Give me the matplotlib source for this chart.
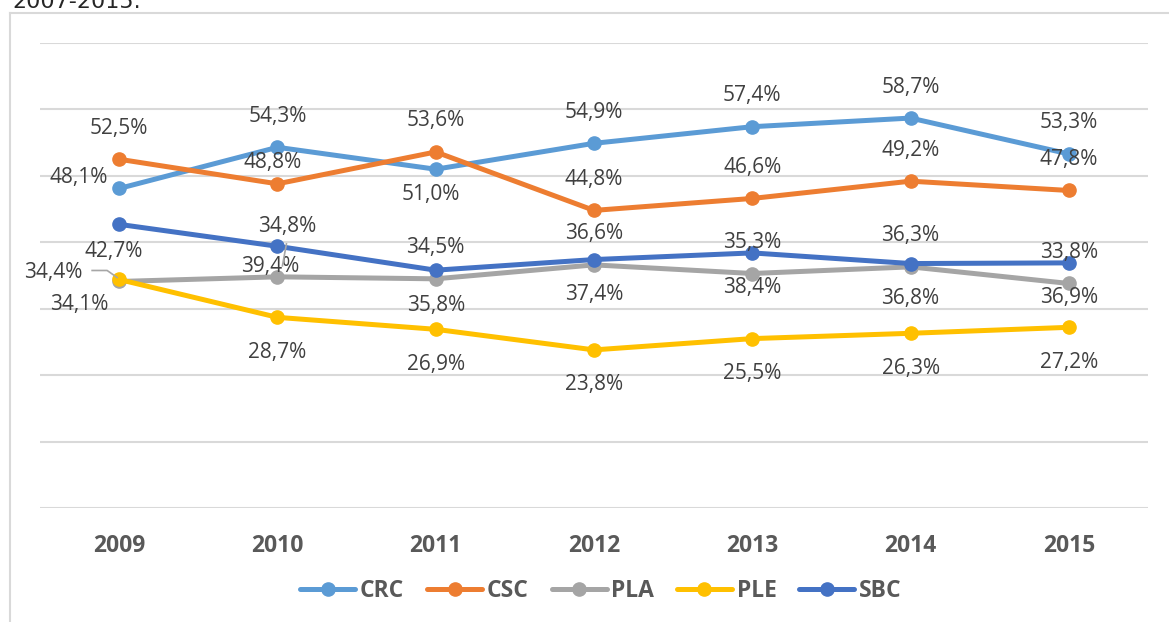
import matplotlib.pyplot as plt
from matplotlib.lines import Line2D
from matplotlib.transforms import IdentityTransform

# data (percent)
years = ['2009', '2010', '2011', '2012', '2013', '2014', '2015']
crc = [48.1, 54.3, 51.0, 54.9, 57.4, 58.7, 53.3]
csc = [52.5, 48.8, 53.6, 44.8, 46.6, 49.2, 47.8]
pla = [34.1, 34.8, 34.5, 36.6, 35.3, 36.3, 33.8]
ple = [34.4, 28.7, 26.9, 23.8, 25.5, 26.3, 27.2]
sbc = [42.7, 39.4, 35.8, 37.4, 38.4, 36.8, 36.9]

names = ['CRC', 'CSC', 'PLA', 'PLE', 'SBC']
colors = ['#5B9BD5', '#ED7D31', '#A5A5A5', '#FFC000', '#4472C4']
series = [crc, csc, pla, ple, sbc]

# label offsets in pixels (dx, dy with dy down), like the Excel placement
up, down = (0, -31), (0, 35)
offsets = {
    'CRC': [(-40, -11), up, (-5, 25), up, up, up, up],
    'CSC': [up, (-5, -21), up, up, up, up, up],
    'PLA': [(-40, 23), (10, -50), up, up, up, up, up],
    'PLE': [(-66, -7), down, down, down, down, down, down],
    'SBC': [(-5, 27), (-7, 20), down, down, down, down, down],
}

W, H = 1169, 622
fig = plt.figure(figsize=(W / 100, H / 100), dpi=100)
ax = fig.add_axes([40 / W, 1 - 508 / H, (1148 - 40) / W, (508 - 43) / H])

x = list(range(len(years)))
for name, vals, c in zip(names, series, colors):
    ax.plot(x, vals, color=c, lw=3.6, marker='o', ms=9.5, label=name,
            solid_capstyle='round', zorder=3)

ax.set_xlim(-0.5, 6.5)
ax.set_ylim(0, 70)
ax.set_yticks(range(0, 71, 10))
ax.set_yticklabels([])
ax.grid(axis='y', color='#D9D9D9', lw=1.5)
ax.set_axisbelow(True)
ax.tick_params(axis='y', length=0)
ax.tick_params(axis='x', length=0, pad=19, labelcolor='#595959')
ax.set_xticks(x)
ax.set_xticklabels(years, fontsize=16.5, fontweight='bold', family='Open Sans')
for s in ax.spines.values():
    s.set_visible(False)

for name, vals in zip(names, series):
    for i, v in enumerate(vals):
        dx, dy = offsets[name][i]
        ax.annotate(f'{v:.1f}%'.replace('.', ','), (i, v), xytext=(dx, -dy),
                    textcoords='offset pixels', ha='center', va='center',
                    fontsize=15, family='Open Sans', color='#404040', zorder=5)

# leader lines for the two dragged labels
def leader(i, v, pts):
    px, py = ax.transData.transform((i, v))
    xs = [px + p[0] for p in pts]
    ys = [py - p[1] for p in pts]
    fig.add_artist(Line2D(xs, ys, transform=IdentityTransform(),
                          color='#A6A6A6', lw=1.2))

leader(0, ple[0], [(-27, -9), (-12, -9), (-2, -2)])
leader(1, pla[1], [(9, -33), (5, -11)])

fig.legend(loc='center', bbox_to_anchor=(601 / W, 1 - 591 / H), ncol=5,
           frameon=False, handlelength=2.4, handletextpad=0.2,
           columnspacing=1.0, prop={'family': 'Open Sans', 'weight': 'bold', 'size': 16.5},
           labelcolor='#595959')

# chart frame and the cut-off caption above it
fig.add_artist(Line2D([10 / W, 1], [1 - 13 / H, 1 - 13 / H], transform=fig.transFigure,
                      color='#D9D9D9', lw=1.5))
fig.add_artist(Line2D([10 / W, 10 / W], [0, 1 - 13 / H], transform=fig.transFigure,
                      color='#D9D9D9', lw=1.5))
fig.text(12 / W, 1 - 8 / H, '2007-2015.', va='baseline', ha='left',
         fontsize=16, color='#262626')

plt.savefig('out.png', dpi=100)
